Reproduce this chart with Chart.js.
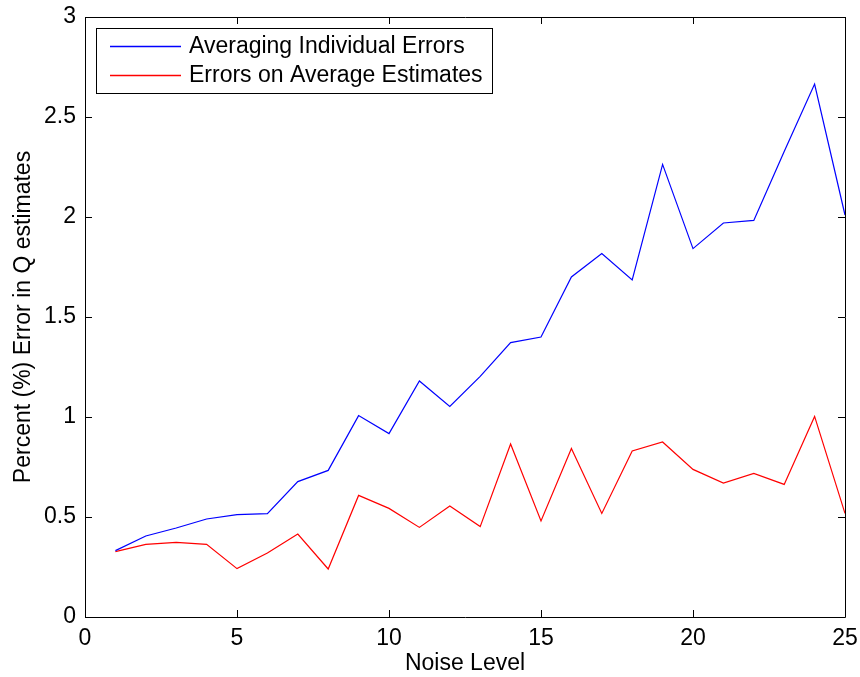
<!DOCTYPE html>
<html>
<head>
<meta charset="utf-8">
<script src="https://cdn.jsdelivr.net/npm/chart.js@4.4.1/dist/chart.umd.min.js"></script>
<style>
html,body{margin:0;padding:0;background:#fff;}
#wrap{width:860px;height:677px;position:relative;}
</style>
</head>
<body>
<div id="wrap"><canvas id="c" width="860" height="677"></canvas></div>
<script>
const noiseLevels = [1,2,3,4,5,6,7,8,9,10,11,12,13,14,15,16,17,18,19,20,21,22,23,24,25];
const averagingIndividualErrors = [0.332,0.405,0.445,0.49,0.512,0.517,0.677,0.733,1.007,0.917,1.18,1.053,1.203,1.372,1.40,1.70,1.817,1.685,2.263,1.842,1.97,1.983,2.327,2.665,2.01];
const errorsOnAverageEstimates = [0.327,0.363,0.373,0.363,0.242,0.32,0.415,0.24,0.608,0.543,0.448,0.555,0.452,0.865,0.48,0.842,0.518,0.83,0.875,0.738,0.67,0.718,0.663,1.003,0.518];
const seriesLabels = ["Averaging Individual Errors","Errors on Average Estimates"];
const seriesColors = ["#0000ff","#ff0000"];
const xTicks = [0,5,10,15,20,25];
const yTicks = [0,0.5,1,1.5,2,2.5,3];

const FONT = "'Liberation Sans', Arial, Helvetica, sans-serif";
const FS = 23;

const boxPlugin = {
  id: 'matlabBox',
  afterDatasetsDraw(chart) {
    const {ctx, chartArea: a, scales} = chart;
    ctx.save();
    ctx.strokeStyle = '#000';
    ctx.lineWidth = 1;
    ctx.beginPath();
    ctx.rect(Math.round(a.left)+0.5, Math.round(a.top)+0.5, Math.round(a.right-a.left), Math.round(a.bottom-a.top));
    ctx.stroke();
    const tl = 7;
    ctx.beginPath();
    xTicks.forEach(v => {
      const px = Math.round(scales.x.getPixelForValue(v)) + 0.5;
      ctx.moveTo(px, a.bottom); ctx.lineTo(px, a.bottom - tl);
      ctx.moveTo(px, a.top); ctx.lineTo(px, a.top + tl);
    });
    yTicks.forEach(v => {
      const py = Math.round(scales.y.getPixelForValue(v)) + 0.5;
      ctx.moveTo(a.left, py); ctx.lineTo(a.left + tl, py);
      ctx.moveTo(a.right, py); ctx.lineTo(a.right - tl, py);
    });
    ctx.stroke();
    // legend
    const lx = 96, ly = 28, lw = 396, lh = 65;
    ctx.fillStyle = '#fff';
    ctx.fillRect(lx, ly, lw, lh);
    ctx.strokeStyle = '#000';
    ctx.lineWidth = 1;
    ctx.strokeRect(lx + 0.5, ly + 0.5, lw, lh);
    ctx.font = FS + 'px ' + FONT;
    ctx.textBaseline = 'middle';
    seriesLabels.forEach((lab, i) => {
      const y = ly + 18 + i * 29;
      ctx.beginPath();
      ctx.strokeStyle = seriesColors[i];
      ctx.lineWidth = 1.3;
      ctx.moveTo(110, y + 0.5); ctx.lineTo(181, y + 0.5);
      ctx.stroke();
      ctx.fillStyle = '#000';
      ctx.fillText(lab, 189, y + 1);
    });
    ctx.restore();
  }
};

new Chart(document.getElementById('c'), {
  type: 'line',
  data: {
    datasets: [
      {label: seriesLabels[0], data: noiseLevels.map((x,i)=>({x, y: averagingIndividualErrors[i]})), borderColor: seriesColors[0], borderWidth: 1.2, pointRadius: 0, tension: 0, fill: false},
      {label: seriesLabels[1], data: noiseLevels.map((x,i)=>({x, y: errorsOnAverageEstimates[i]})), borderColor: seriesColors[1], borderWidth: 1.2, pointRadius: 0, tension: 0, fill: false}
    ]
  },
  options: {
    responsive: false,
    animation: false,
    devicePixelRatio: 1,
    layout: {padding: {left: 0, right: 15, top: 17, bottom: 0}},
    plugins: {legend: {display: false}, tooltip: {enabled: false}},
    scales: {
      x: {
        type: 'linear', min: 0, max: 25,
        afterBuildTicks: s => { s.ticks = xTicks.map(v => ({value: v})); },
        grid: {display: false, drawTicks: false},
        border: {display: false},
        ticks: {color: '#000', font: {size: FS, family: FONT}, padding: 8, maxRotation: 0, callback: v => String(v)},
        title: {display: true, text: 'Noise Level', color: '#000', font: {size: FS, family: FONT}, padding: {top: 0, bottom: 0}},
        afterFit: s => { s.height = 60; s.paddingLeft = 0; s.paddingRight = 0; }
      },
      y: {
        type: 'linear', min: 0, max: 3,
        afterBuildTicks: s => { s.ticks = yTicks.map(v => ({value: v})); },
        grid: {display: false, drawTicks: false},
        border: {display: false},
        ticks: {color: '#000', font: {size: FS, family: FONT}, padding: 9, callback: v => String(v)},
        title: {display: true, text: 'Percent (%) Error in Q estimates', color: '#000', font: {size: FS, family: FONT}, padding: {top: 10, bottom: 0}},
        afterFit: s => { s.width = 85; s.paddingTop = 0; s.paddingBottom = 0; }
      }
    }
  },
  plugins: [boxPlugin]
});
</script>
</body>
</html>
